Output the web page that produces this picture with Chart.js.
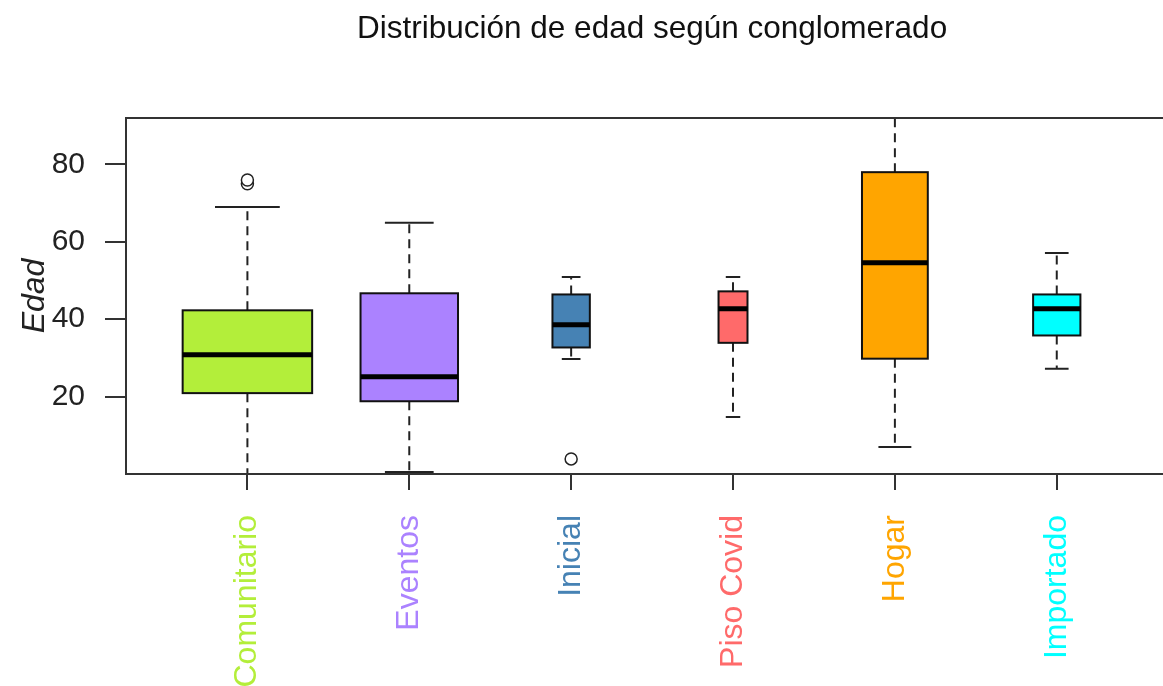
<!DOCTYPE html>
<html>
<head>
<meta charset="utf-8">
<script src="https://cdn.jsdelivr.net/npm/chart.js@4"></script>
<style>
  body { margin: 0; background: #fff; }
  #box { width: 1163px; height: 686px; }
</style>
</head>
<body>
<div id="box"><canvas id="edadChart" width="1163" height="686"></canvas></div>
<script>
// datos del boxplot
const categories = ['Comunitario', 'Eventos', 'Inicial', 'Piso Covid', 'Hogar', 'Importado'];
const colors = ['#B3EE3A', '#AB82FF', '#4682B4', '#FF6A6A', '#FFA500', '#00FFFF'];
const lowerWhisker = [0, 0.5, 29.7, 14.7, 7.0, 27.2];
const q1 = [20.9, 18.8, 32.7, 33.9, 29.8, 35.8];
const medians = [30.8, 25.1, 38.6, 42.7, 54.6, 42.7];
const q3 = [42.3, 46.7, 46.4, 47.2, 78.0, 46.4];
const upperWhisker = [69.0, 64.9, 50.9, 50.9, 95, 57.1];
const groupSizes = [120, 68, 10, 6, 31, 16];
const outliers = [[75, 76], [], [3.9], [], [], []];
const yTicks = [20, 40, 60, 80];

const FONT = '"Liberation Sans", Arial, sans-serif';
const INK = '#222';

// puntos atípicos
const outlierPoints = [];
outliers.forEach((arr, i) => arr.forEach(v => outlierPoints.push({ x: i + 1, y: v })));

// cajas, bigotes y medianas
const boxPlugin = {
    id: 'boxes',
    beforeDatasetsDraw(chart) {
        const { ctx, chartArea, scales: { x, y } } = chart;
        const step = x.getPixelForValue(2) - x.getPixelForValue(1);
        const nMax = Math.max(...groupSizes);
        ctx.save();
        ctx.beginPath();
        ctx.rect(chartArea.left, chartArea.top, chartArea.right - chartArea.left, chartArea.bottom - chartArea.top);
        ctx.clip();
        categories.forEach((c, i) => {
            const cx = x.getPixelForValue(i + 1);
            const w = 0.8 * step * Math.sqrt(groupSizes[i] / nMax);
            const yq1 = y.getPixelForValue(q1[i]);
            const yq3 = y.getPixelForValue(q3[i]);
            const ylo = y.getPixelForValue(lowerWhisker[i]);
            const yhi = y.getPixelForValue(upperWhisker[i]);
            const ymed = y.getPixelForValue(medians[i]);

            // bigotes punteados
            ctx.strokeStyle = INK;
            ctx.lineWidth = 2;
            ctx.setLineDash([9, 6]);
            ctx.beginPath();
            ctx.moveTo(cx, yq3); ctx.lineTo(cx, yhi);
            ctx.moveTo(cx, yq1); ctx.lineTo(cx, ylo);
            ctx.stroke();
            ctx.setLineDash([]);
            // topes
            ctx.beginPath();
            ctx.moveTo(cx - w / 4, yhi); ctx.lineTo(cx + w / 4, yhi);
            ctx.moveTo(cx - w / 4, ylo); ctx.lineTo(cx + w / 4, ylo);
            ctx.stroke();
            // caja
            ctx.fillStyle = colors[i];
            ctx.fillRect(cx - w / 2, yq3, w, yq1 - yq3);
            ctx.strokeStyle = '#111';
            ctx.strokeRect(cx - w / 2, yq3, w, yq1 - yq3);
            // mediana
            ctx.lineWidth = 5;
            ctx.strokeStyle = '#000';
            ctx.beginPath();
            ctx.moveTo(cx - w / 2, ymed); ctx.lineTo(cx + w / 2, ymed);
            ctx.stroke();
        });
        ctx.restore();
    },
    afterDraw(chart) {
        const { ctx, chartArea, scales: { x } } = chart;
        ctx.save();
        // línea superior del marco
        ctx.strokeStyle = '#333';
        ctx.lineWidth = 2;
        ctx.beginPath();
        ctx.moveTo(chartArea.left, chartArea.top);
        ctx.lineTo(chart.width, chartArea.top);
        ctx.stroke();
        // eje inferior hasta el borde
        ctx.beginPath();
        ctx.moveTo(chartArea.left, chartArea.bottom);
        ctx.lineTo(chart.width, chartArea.bottom);
        ctx.stroke();
        // título
        ctx.fillStyle = '#111';
        ctx.font = '31.5px ' + FONT;
        ctx.textAlign = 'center';
        ctx.textBaseline = 'middle';
        ctx.fillText('Distribución de edad según conglomerado', x.getPixelForValue(3.5), 29);
        ctx.restore();
    }
};

const ctx = document.getElementById('edadChart').getContext('2d');
new Chart(ctx, {
    type: 'scatter',
    data: {
        datasets: [{
            label: 'atípicos',
            data: outlierPoints,
            pointRadius: 6,
            pointBorderWidth: 1.5,
            borderColor: INK,
            backgroundColor: '#fff'
        }]
    },
    options: {
        responsive: false,
        animation: false,
        devicePixelRatio: 1,
        layout: { padding: { top: 118, left: 0, right: 0, bottom: 0 } },
        plugins: {
            legend: { display: false },
            tooltip: { enabled: false }
        },
        scales: {
            x: {
                type: 'linear',
                min: 0.25,
                max: 6.61,
                afterBuildTicks: s => { s.ticks = categories.map((_, i) => ({ value: i + 1 })); },
                afterFit: s => { s.height = 212; },
                ticks: {
                    autoSkip: false,
                    minRotation: 90,
                    maxRotation: 90,
                    padding: 25,
                    font: { family: FONT, size: 32 },
                    color: c => colors[c.index],
                    callback: v => categories[Math.round(v) - 1]
                },
                grid: { drawOnChartArea: false, tickLength: 16, color: '#333', lineWidth: 2 },
                border: { color: '#333', width: 2 }
            },
            y: {
                type: 'linear',
                min: 0,
                max: 92,
                afterBuildTicks: s => { s.ticks = yTicks.map(v => ({ value: v })); },
                afterFit: s => { s.width = 126; },
                ticks: {
                    padding: 20,
                    font: { family: FONT, size: 30 },
                    color: INK
                },
                grid: { drawOnChartArea: false, tickLength: 21, color: '#333', lineWidth: 2 },
                border: { color: '#333', width: 2 },
                title: {
                    display: true,
                    text: 'Edad',
                    color: INK,
                    font: { family: FONT, size: 32, style: 'italic' },
                    padding: { top: 16, bottom: 0 }
                }
            }
        }
    },
    plugins: [boxPlugin]
});
</script>
</body>
</html>
